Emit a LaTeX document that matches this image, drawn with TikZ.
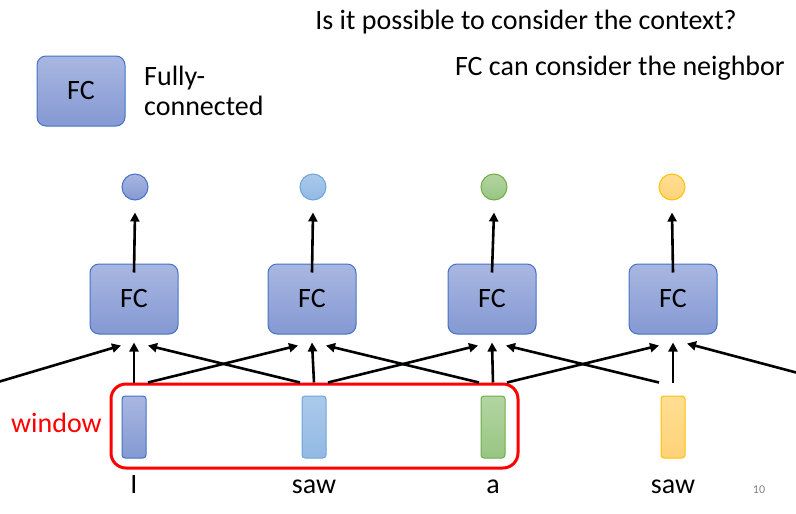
\documentclass[tikz,border=0pt]{standalone}
\usepackage{fontspec}
\setmainfont{Carlito}
\usetikzlibrary{arrows.meta,calc}
\definecolor{fctop}{HTML}{A9B7E1}
\definecolor{fcbot}{HTML}{8499D3}
\definecolor{fcline}{HTML}{4472C4}
\definecolor{c1t}{HTML}{A9B7E1}\definecolor{c1b}{HTML}{8499D3}\definecolor{c1l}{HTML}{4472C4}
\definecolor{c2t}{HTML}{AACAEB}\definecolor{c2b}{HTML}{93B9E3}\definecolor{c2l}{HTML}{6FA5DA}
\definecolor{c3t}{HTML}{B3D5A2}\definecolor{c3b}{HTML}{98C583}\definecolor{c3l}{HTML}{70AD47}
\definecolor{c4t}{HTML}{FFDE93}\definecolor{c4b}{HTML}{FFD278}\definecolor{c4l}{HTML}{FFC000}
\tikzset{
  bigtext/.style={font=\fontsize{28}{30}\selectfont, inner sep=0pt},
  fcbox/.style={draw=fcline, line width=1pt, rounded corners=9pt, minimum width=88pt, minimum height=70pt,
    top color=fctop, bottom color=fcbot, bigtext},
  outc/.style={circle, line width=1pt, minimum size=26pt, inner sep=0pt},
  vec/.style={rounded corners=3pt, line width=1pt, minimum width=24pt, minimum height=62pt, inner sep=0pt},
  arr/.style={line width=2.6pt, -{Triangle[length=9pt,width=9pt]}},
  word/.style={bigtext, anchor=base},
}
\begin{document}
\begin{tikzpicture}[x=1pt,y=-1pt]
\useasboundingbox (0,0) rectangle (796,514);
\node[bigtext, anchor=base east] (q) at (737,30) {Is it possible to consider the context?};
\node[bigtext, anchor=base east] (n) at (785,75) {FC can consider the neighbor};
\node[fcbox] (leg) at (81,91) {FC};
\node[bigtext, anchor=base west] (legt1) at (144,85) {Fully-};
\node[bigtext, anchor=base west] (legt2) at (144,115) {connected};

\node[fcbox] (fc1) at (134,299) {FC};
\node[fcbox] (fc2) at (312,299) {FC};
\node[fcbox] (fc3) at (492,299) {FC};
\node[fcbox] (fc4) at (673,299) {FC};

\node[outc, draw=c1l, top color=c1t, bottom color=c1b] (o1) at (135,187) {};
\node[outc, draw=c2l, top color=c2t, bottom color=c2b] (o2) at (313,187) {};
\node[outc, draw=c3l, top color=c3t, bottom color=c3b] (o3) at (494,187) {};
\node[outc, draw=c4l, top color=c4t, bottom color=c4b] (o4) at (672,187) {};

\node[vec, draw=c1l, top color=c1t, bottom color=c1b] (v1) at (134,427) {};
\node[vec, draw=c2l, top color=c2t, bottom color=c2b] (v2) at (314,427) {};
\node[vec, draw=c3l, top color=c3t, bottom color=c3b] (v3) at (493,427) {};
\node[vec, draw=c4l, top color=c4t, bottom color=c4b] (v4) at (673,427) {};

\node[word] (w1) at (134,493) {I};
\node[word] (w2) at (314,493) {saw};
\node[word] (w3) at (493,493) {a};
\node[word] (w4) at (673,493) {saw};
\node[font=\fontsize{12}{14}\selectfont, text=gray, inner sep=0pt] (pg) at (759,490) {10};

\node[draw=red, line width=3pt, rounded corners=15pt, minimum width=407pt, minimum height=84pt, inner sep=0pt] (win) at (314.5,426) {};
\node[bigtext, text=red, anchor=base west] (wl) at (11,432) {window};

\foreach \i in {1,2,3,4}{
  \draw[arr] ([yshift=-9pt]fc\i.north) -- ([yshift=-12pt]o\i.south);
  \draw[arr] ([yshift=13pt]v\i.north) -- ([yshift=-8pt]fc\i.south);
}
\foreach \i/\j in {1/2,2/3,3/4}{
  \draw[arr] ([xshift=14pt,yshift=13pt]v\i.north) -- ([xshift=-14pt,yshift=-11pt]fc\j.south);
  \draw[arr] ([xshift=-14pt,yshift=13pt]v\j.north) -- ([xshift=14pt,yshift=-11pt]fc\i.south);
}
\coordinate (lin) at (-2,382);
\coordinate (rin) at (798,373);
\draw[arr] (lin) -- ([xshift=-13pt,yshift=-11pt]fc1.south);
\draw[arr] (rin) -- ([xshift=14pt,yshift=-9pt]fc4.south);
\end{tikzpicture}
\end{document}
